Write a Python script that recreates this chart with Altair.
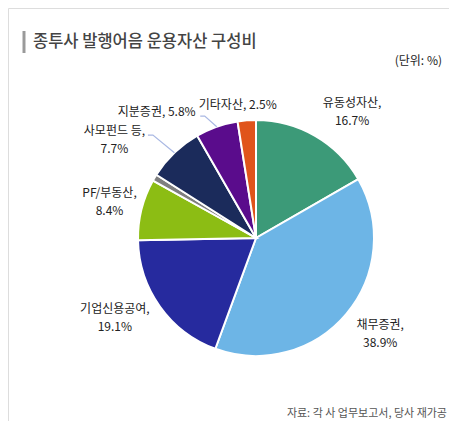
import math
import altair as alt
import pandas as pd

# ---- data ----
categories = ["유동성자산", "채무증권", "기업신용공여", "PF/부동산", "기타", "사모펀드 등", "지분증권", "기타자산"]
values = [16.7, 38.9, 19.1, 8.4, 0.9, 7.7, 5.8, 2.5]
label_texts = ["유동성자산,\n16.7%", "채무증권,\n38.9%", "기업신용공여,\n19.1%", "PF/부동산,\n8.4%", "",
               "사모펀드 등,\n7.7%", "지분증권, 5.8%", "기타자산, 2.5%"]
colors = ["#3c9a78", "#6db5e6", "#262a9e", "#8cbd14", "#7f7f7f", "#1b2b5b", "#5a0c8c", "#e0541b"]

title_text = "종투사 발행어음 운용자산 구성비"
unit_text = "(단위: %)"
source_text = "자료: 각 사 업무보고서, 당사 재가공"

# ---- layout (chart pixel coordinates) ----
W, H = 441, 413
CX, CY, R = 248, 230, 118
FONT = "Noto Sans CJK KR"
LINE_H = 18

label_offsets = {
    "유동성자산": (37, -24),
    "채무증권": (34, 20),
    "기업신용공여": (-45, 12),
    "PF/부동산": (-32, -7),
    "사모펀드 등": (-60, -13),
    "지분증권": (-60, -15),
    "기타자산": (-9, -15),
}
leaders = {
    "사모펀드 등": ((-21.5, -17.7), -5),
    "지분증권": ((-12, -10.7), -4.5),
}

df = pd.DataFrame({"category": categories, "value": values, "order": list(range(len(values)))})
one = pd.DataFrame({"k": [0]})

total = sum(values)
edge = {}
cum = 0.0
for c, v in zip(categories, values):
    mid = (cum + v / 2) / total * 2 * math.pi
    edge[c] = (CX + R * math.sin(mid), CY - R * math.cos(mid))
    cum += v

lab_rows = []
for c, t in zip(categories, label_texts):
    if not t:
        continue
    ex, ey = edge[c]
    dx, dy = label_offsets[c]
    n = t.count("\n")
    lab_rows.append({"x": ex + dx, "y": ey + dy - n * LINE_H / 2, "label": t})
lab_df = pd.DataFrame(lab_rows)

line_rows = []
for c, ((ox, oy), run) in leaders.items():
    ex, ey = edge[c]
    pts = [(ex, ey), (ex + ox, ey + oy), (ex + ox + run, ey + oy)]
    for i, (px, py) in enumerate(pts):
        line_rows.append({"key": c, "i": i, "x": px, "y": py})
line_df = pd.DataFrame(line_rows)

pie = alt.Chart(df).mark_arc(outerRadius=R, stroke="white", strokeWidth=2).encode(
    theta=alt.Theta("value:Q", stack=True),
    order=alt.Order("order:Q"),
    color=alt.Color("category:N", scale=alt.Scale(domain=categories, range=colors), legend=None),
    x=alt.value(CX),
    y=alt.value(CY),
)

lines = alt.Chart(line_df).mark_line(color="#a9b8e3", strokeWidth=1.2).encode(
    x=alt.X("x:Q", scale=None, axis=None),
    y=alt.Y("y:Q", scale=None, axis=None),
    detail="key:N",
    order="i:Q",
)

labels = alt.Chart(lab_df).mark_text(
    font=FONT, fontSize=12, color="#222222", lineBreak="\n", lineHeight=LINE_H, align="center", baseline="middle"
).encode(
    x=alt.X("x:Q", scale=None, axis=None),
    y=alt.Y("y:Q", scale=None, axis=None),
    text="label:N",
)

title_bar = alt.Chart(one).mark_rule(color="#9a9a9a", strokeWidth=3).encode(
    x=alt.value(16), y=alt.value(23), y2=alt.value(45)
)
title = alt.Chart(one).mark_text(
    text=title_text, font=FONT, fontSize=16.5, fontWeight=500, color="#444444", align="left", baseline="middle"
).encode(x=alt.value(25), y=alt.value(34))
unit = alt.Chart(one).mark_text(
    text=unit_text, font=FONT, fontSize=12, color="#222222", align="right", baseline="middle"
).encode(x=alt.value(434), y=alt.value(53))
source = alt.Chart(one).mark_text(
    text=source_text, font=FONT, fontSize=11, color="#555555", align="right", baseline="middle"
).encode(x=alt.value(439), y=alt.value(406))

chart = alt.layer(pie, lines, labels, title_bar, title, unit, source).properties(
    width=W, height=H, padding=0, autosize="none"
).configure_view(stroke="transparent", fill="white").configure(background="white")

chart.save("out.html", embed_options={"renderer": "svg", "actions": False})
